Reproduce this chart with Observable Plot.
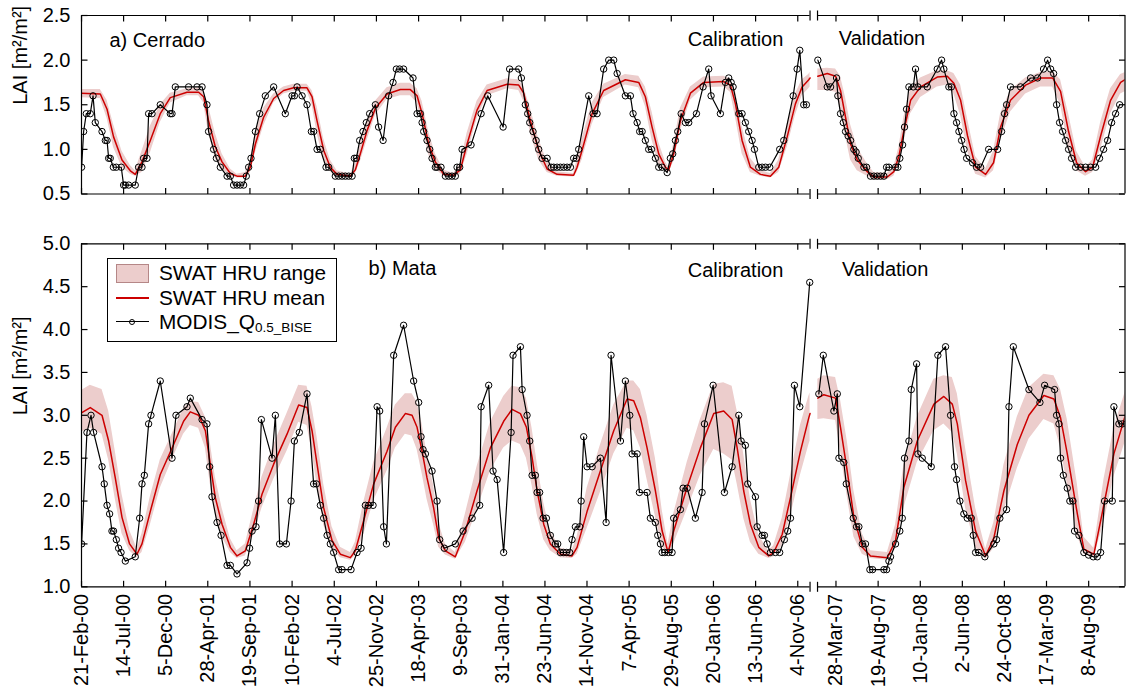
<!DOCTYPE html>
<html><head><meta charset="utf-8">
<script src="https://cdn.jsdelivr.net/npm/d3@7"></script>
<script src="https://cdn.jsdelivr.net/npm/@observablehq/plot@0.6"></script>
<style>
body{margin:0;background:#fff;font-family:"Liberation Sans",Arial,sans-serif;}
#wrap{position:relative;width:1126px;height:699px;overflow:hidden;background:#fff;}
#top{position:absolute;left:0;top:0;}
#bot{position:absolute;left:0;top:228px;}
#legend{position:absolute;left:107px;top:258px;width:230px;height:84px;border:1px solid #000;background:#fff;box-sizing:border-box;font-size:20.8px;color:#000;}
#legend .t{position:absolute;left:51px;height:24px;line-height:24px;white-space:nowrap;}
#legend sub{font-size:13.5px;vertical-align:-3px;}
</style></head><body>
<div id="wrap">
  <div id="top"></div>
  <div id="bot"></div>
  <div id="legend">
    <div style="position:absolute;left:8px;top:5px;width:33px;height:19px;background:#eccdcc;border:1px solid #b58787;box-sizing:border-box;"></div>
    <div class="t" style="top:2px;">SWAT HRU range</div>
    <div style="position:absolute;left:8px;top:38px;width:33px;height:1.5px;background:#cc0000;"></div>
    <div class="t" style="top:27px;">SWAT HRU mean</div>
    <div style="position:absolute;left:8px;top:62px;width:33px;height:1.2px;background:#000;"></div>
    <div style="position:absolute;left:21px;top:59.5px;width:6px;height:6px;border:1px solid #000;border-radius:50%;box-sizing:border-box;"></div>
    <div class="t" style="top:51px;">MODIS_Q<sub>0.5_BISE</sub></div>
  </div>
</div>
<script>
// ---------------- data ----------------
const tickDates = ["2000-02-21","2000-07-14","2000-12-05","2001-04-28","2001-09-19","2002-02-10","2002-07-04","2002-11-25","2003-04-18","2003-09-09","2004-01-31","2004-06-23","2004-11-14","2005-04-07","2005-08-29","2006-01-20","2006-06-13","2006-11-04","2007-03-28","2007-08-19","2008-01-10","2008-06-02","2008-10-24","2009-03-17","2009-08-08"];
const cerradoYTicks = [0.5, 1.0, 1.5, 2.0, 2.5];
const mataYTicks = [1.0, 1.5, 2.0, 2.5, 3.0, 3.5, 4.0, 4.5, 5.0];

// MODIS_Q0.5_BISE LAI, [decimal year, LAI]
const cerradoModis = [[2000.14,0.8],[2000.159,1.2],[2000.184,1.4],[2000.221,1.4],[2000.247,1.6],[2000.268,1.3],[2000.331,1.2],[2000.362,1.1],[2000.378,1.1],[2000.393,0.9],[2000.408,0.9],[2000.437,0.8],[2000.465,0.8],[2000.511,0.8],[2000.533,0.6],[2000.549,0.6],[2000.580,0.6],[2000.642,0.6],[2000.673,0.8],[2000.705,0.8],[2000.720,0.9],[2000.752,0.9],[2000.767,1.4],[2000.799,1.4],[2000.876,1.5],[2000.970,1.4],[2000.986,1.4],[2001.017,1.7],[2001.141,1.7],[2001.220,1.7],[2001.267,1.7],[2001.313,1.5],[2001.328,1.2],[2001.375,1.0],[2001.401,0.9],[2001.438,0.8],[2001.501,0.7],[2001.532,0.7],[2001.562,0.6],[2001.594,0.6],[2001.625,0.6],[2001.656,0.6],[2001.681,0.7],[2001.703,0.8],[2001.725,0.9],[2001.766,1.2],[2001.806,1.4],[2001.859,1.6],[2001.937,1.7],[2002.046,1.4],[2002.109,1.6],[2002.131,1.6],[2002.156,1.7],[2002.203,1.6],[2002.249,1.5],[2002.290,1.2],[2002.311,1.2],[2002.343,1.0],[2002.374,1.0],[2002.427,0.8],[2002.452,0.8],[2002.514,0.7],[2002.545,0.7],[2002.577,0.7],[2002.608,0.7],[2002.639,0.7],[2002.671,0.7],[2002.692,0.9],[2002.711,0.9],[2002.742,1.1],[2002.773,1.2],[2002.804,1.3],[2002.835,1.4],[2002.889,1.5],[2002.919,1.25],[2002.961,1.1],[2003.013,1.6],[2003.054,1.75],[2003.085,1.9],[2003.116,1.9],[2003.153,1.9],[2003.241,1.8],[2003.279,1.4],[2003.310,1.4],[2003.326,1.3],[2003.341,1.2],[2003.372,1.1],[2003.397,1.0],[2003.419,0.9],[2003.450,0.8],[2003.466,0.8],[2003.503,0.8],[2003.544,0.7],[2003.575,0.7],[2003.606,0.7],[2003.637,0.7],[2003.653,0.8],[2003.678,0.8],[2003.700,1.0],[2003.784,1.05],[2003.878,1.4],[2003.940,1.6],[2004.084,1.25],[2004.145,1.9],[2004.230,1.9],[2004.255,1.8],[2004.292,1.5],[2004.314,1.4],[2004.333,1.3],[2004.364,1.2],[2004.393,1.1],[2004.417,1.0],[2004.449,0.9],[2004.496,0.9],[2004.533,0.8],[2004.557,0.8],[2004.589,0.8],[2004.620,0.8],[2004.651,0.8],[2004.683,0.8],[2004.714,0.8],[2004.744,0.9],[2004.770,0.9],[2004.791,1.0],[2004.885,1.6],[2004.926,1.4],[2004.963,1.4],[2005.025,1.9],[2005.072,2.0],[2005.119,2.0],[2005.151,1.85],[2005.228,1.6],[2005.275,1.6],[2005.300,1.4],[2005.338,1.3],[2005.362,1.2],[2005.385,1.2],[2005.415,1.1],[2005.446,1.0],[2005.472,1.0],[2005.509,0.9],[2005.540,0.8],[2005.572,0.8],[2005.619,0.74],[2005.649,0.9],[2005.671,0.95],[2005.696,1.1],[2005.718,1.2],[2005.750,1.4],[2005.790,1.3],[2005.821,1.3],[2005.893,1.4],[2005.955,1.7],[2006.008,1.9],[2006.030,1.6],[2006.117,1.4],[2006.164,1.75],[2006.195,1.8],[2006.218,1.75],[2006.236,1.7],[2006.289,1.4],[2006.320,1.4],[2006.351,1.3],[2006.382,1.2],[2006.414,1.1],[2006.436,1.0],[2006.476,0.8],[2006.508,0.8],[2006.539,0.8],[2006.579,0.8],[2006.672,1.0],[2006.710,1.1],[2006.798,1.6],[2006.835,1.9],[2006.860,2.11],[2006.897,1.5],[2006.922,1.5],
[2007.066,2.0],[2007.154,1.7],[2007.185,1.7],[2007.241,1.8],[2007.253,1.6],[2007.278,1.4],[2007.304,1.3],[2007.325,1.2],[2007.349,1.15],[2007.372,1.1],[2007.403,1.0],[2007.424,0.97],[2007.444,0.9],[2007.497,0.8],[2007.522,0.8],[2007.559,0.7],[2007.590,0.7],[2007.622,0.7],[2007.653,0.7],[2007.684,0.7],[2007.709,0.8],[2007.731,0.8],[2007.793,0.8],[2007.815,0.8],[2007.833,0.9],[2007.859,1.05],[2007.877,1.25],[2007.896,1.45],[2007.918,1.7],[2007.959,1.7],[2007.980,1.9],[2008.002,1.7],[2008.090,1.7],[2008.183,1.9],[2008.224,2.0],[2008.245,1.9],[2008.292,1.7],[2008.315,1.7],[2008.339,1.4],[2008.364,1.3],[2008.386,1.2],[2008.411,1.1],[2008.434,1.0],[2008.458,0.9],[2008.514,0.85],[2008.551,0.8],[2008.589,0.8],[2008.664,1.0],[2008.748,1.0],[2008.785,1.2],[2008.813,1.4],[2008.832,1.5],[2008.869,1.7],[2008.963,1.7],[2009.057,1.8],[2009.122,1.8],[2009.178,1.9],[2009.216,2.0],[2009.244,1.9],[2009.272,1.85],[2009.300,1.5],[2009.328,1.3],[2009.356,1.2],[2009.384,1.1],[2009.412,1.0],[2009.440,0.9],[2009.478,0.8],[2009.525,0.8],[2009.571,0.8],[2009.618,0.8],[2009.665,0.8],[2009.702,0.9],[2009.740,1.0],[2009.777,1.1],[2009.815,1.3],[2009.852,1.4],[2009.890,1.5]];

// SWAT HRU LAI, [decimal year, mean, min, max]
const cerradoSwat = [[2000.128,1.63,1.58,1.67],[2000.315,1.62,1.57,1.67],[2000.378,1.45,1.35,1.55],[2000.439,1.14,1.02,1.28],[2000.518,0.88,0.80,0.98],[2000.596,0.76,0.72,0.82],[2000.642,0.72,0.70,0.76],[2000.705,0.86,0.74,0.98],[2000.783,1.10,0.96,1.26],[2000.876,1.40,1.30,1.50],[2000.970,1.58,1.52,1.63],[2001.126,1.64,1.60,1.68],[2001.235,1.64,1.60,1.69],[2001.282,1.59,1.52,1.65],[2001.328,1.32,1.18,1.48],[2001.391,1.03,0.90,1.18],[2001.454,0.86,0.78,0.95],[2001.532,0.73,0.70,0.78],[2001.594,0.70,0.68,0.72],[2001.672,0.70,0.68,0.74],[2001.719,0.80,0.74,0.88],[2001.766,1.06,0.96,1.18],[2001.843,1.36,1.26,1.46],[2001.937,1.57,1.52,1.62],[2002.030,1.66,1.62,1.70],[2002.124,1.69,1.65,1.73],[2002.249,1.69,1.65,1.73],[2002.296,1.59,1.50,1.66],[2002.343,1.32,1.18,1.48],[2002.405,0.99,0.88,1.12],[2002.467,0.80,0.75,0.88],[2002.530,0.72,0.70,0.76],[2002.655,0.70,0.68,0.72],[2002.701,0.77,0.72,0.84],[2002.748,0.95,0.86,1.06],[2002.811,1.21,1.10,1.32],[2002.889,1.46,1.38,1.54],[2002.998,1.62,1.56,1.69],[2003.123,1.67,1.60,1.74],[2003.216,1.67,1.60,1.74],[2003.279,1.60,1.52,1.68],[2003.326,1.40,1.28,1.54],[2003.387,1.06,0.94,1.20],[2003.450,0.86,0.78,0.95],[2003.528,0.72,0.70,0.77],[2003.621,0.71,0.69,0.73],[2003.684,0.77,0.72,0.84],[2003.747,1.06,0.94,1.18],[2003.840,1.44,1.34,1.54],[2003.934,1.66,1.60,1.72],[2004.121,1.73,1.68,1.79],[2004.230,1.72,1.66,1.78],[2004.277,1.63,1.54,1.70],[2004.339,1.32,1.18,1.46],[2004.417,0.99,0.88,1.12],[2004.496,0.78,0.74,0.86],[2004.589,0.72,0.70,0.75],[2004.744,0.71,0.69,0.73],[2004.776,0.80,0.74,0.88],[2004.823,0.99,0.88,1.12],[2004.917,1.40,1.28,1.52],[2005.025,1.66,1.58,1.73],[2005.228,1.78,1.72,1.84],[2005.353,1.75,1.69,1.82],[2005.415,1.59,1.48,1.70],[2005.478,1.25,1.10,1.42],[2005.540,0.95,0.84,1.08],[2005.603,0.80,0.76,0.86],[2005.634,0.77,0.74,0.80],[2005.680,0.95,0.86,1.06],[2005.743,1.32,1.20,1.46],[2005.837,1.63,1.55,1.70],[2005.961,1.75,1.69,1.81],[2006.148,1.76,1.70,1.82],[2006.211,1.72,1.64,1.79],[2006.258,1.51,1.36,1.66],[2006.320,1.10,0.95,1.26],[2006.398,0.80,0.74,0.90],[2006.492,0.72,0.70,0.76],[2006.585,0.70,0.68,0.73],[2006.663,0.80,0.74,0.88],[2006.742,1.14,1.02,1.28],[2006.819,1.51,1.38,1.62],[2006.882,1.70,1.60,1.78],[2006.944,1.78,1.68,1.84],[2006.956,1.80,1.70,1.86],
[2007.066,1.82,1.66,1.90],[2007.154,1.85,1.66,1.91],[2007.232,1.82,1.64,1.90],[2007.278,1.66,1.45,1.82],[2007.325,1.36,1.15,1.58],[2007.372,1.06,0.88,1.28],[2007.435,0.88,0.76,1.02],[2007.528,0.75,0.70,0.84],[2007.590,0.69,0.66,0.74],[2007.716,0.69,0.66,0.73],[2007.777,0.75,0.70,0.80],[2007.824,0.92,0.84,1.02],[2007.871,1.21,1.08,1.36],[2007.934,1.55,1.40,1.68],[2008.027,1.70,1.58,1.80],[2008.183,1.81,1.70,1.88],[2008.277,1.82,1.72,1.88],[2008.339,1.74,1.62,1.85],[2008.402,1.55,1.38,1.72],[2008.467,1.15,0.98,1.34],[2008.542,0.80,0.72,0.92],[2008.636,0.72,0.68,0.78],[2008.710,0.85,0.76,0.98],[2008.776,1.25,1.10,1.40],[2008.869,1.55,1.42,1.66],[2009.010,1.72,1.62,1.80],[2009.150,1.80,1.70,1.86],[2009.263,1.80,1.70,1.87],[2009.337,1.65,1.50,1.78],[2009.412,1.20,1.02,1.40],[2009.487,0.85,0.76,0.98],[2009.571,0.75,0.70,0.80],[2009.637,0.80,0.74,0.88],[2009.712,1.15,1.00,1.30],[2009.805,1.55,1.40,1.68],[2009.899,1.75,1.62,1.84],[2009.964,1.80,1.66,1.87]];

const mataModis = [[2000.14,1.5],[2000.190,2.8],[2000.228,3.0],[2000.252,2.8],[2000.331,2.4],[2000.352,2.2],[2000.378,1.95],[2000.402,1.85],[2000.424,1.65],[2000.439,1.65],[2000.465,1.55],[2000.486,1.45],[2000.509,1.4],[2000.549,1.3],[2000.642,1.35],[2000.683,1.8],[2000.705,2.2],[2000.727,2.3],[2000.767,2.9],[2000.789,3.0],[2000.876,3.4],[2000.986,2.5],[2001.023,3.0],[2001.126,3.1],[2001.157,3.2],[2001.267,2.95],[2001.313,2.9],[2001.338,2.4],[2001.360,2.05],[2001.407,1.75],[2001.445,1.6],[2001.501,1.25],[2001.532,1.25],[2001.594,1.15],[2001.688,1.28],[2001.712,1.45],[2001.735,1.65],[2001.772,1.7],[2001.796,2.0],[2001.822,2.95],[2001.922,2.5],[2001.953,3.0],[2001.993,1.5],[2002.056,1.5],[2002.100,2.0],[2002.131,2.7],[2002.177,2.8],[2002.249,3.25],[2002.311,2.2],[2002.336,2.2],[2002.374,1.95],[2002.405,1.8],[2002.437,1.6],[2002.467,1.5],[2002.498,1.4],[2002.545,1.2],[2002.577,1.2],[2002.661,1.2],[2002.717,1.4],[2002.755,1.45],[2002.795,1.95],[2002.826,1.95],[2002.867,1.95],[2002.905,3.1],[2002.929,3.05],[2002.966,1.7],[2002.992,1.5],[2003.060,3.7],[2003.153,4.05],[2003.247,3.4],[2003.294,3.15],[2003.316,2.75],[2003.335,2.6],[2003.357,2.55],[2003.419,2.35],[2003.466,2.0],[2003.490,1.55],[2003.534,1.45],[2003.637,1.5],[2003.709,1.65],[2003.794,1.8],[2003.865,1.95],[2003.878,3.1],[2003.949,3.35],[2003.990,2.35],[2004.028,2.25],[2004.089,1.4],[2004.159,2.8],[2004.177,3.7],[2004.246,3.8],[2004.262,3.3],[2004.308,3.0],[2004.333,2.7],[2004.355,2.3],[2004.386,2.3],[2004.402,2.1],[2004.426,2.1],[2004.458,1.8],[2004.489,1.8],[2004.526,1.6],[2004.573,1.5],[2004.595,1.5],[2004.620,1.4],[2004.648,1.4],[2004.676,1.4],[2004.707,1.4],[2004.729,1.55],[2004.760,1.7],[2004.801,1.7],[2004.814,2.0],[2004.838,2.75],[2004.870,2.4],[2004.917,2.4],[2004.994,2.5],[2005.048,1.75],[2005.094,3.7],[2005.182,2.7],[2005.228,3.4],[2005.269,3.0],[2005.291,2.55],[2005.338,2.55],[2005.359,2.1],[2005.431,2.1],[2005.462,1.8],[2005.509,1.75],[2005.531,1.6],[2005.556,1.5],[2005.572,1.4],[2005.596,1.4],[2005.631,1.4],[2005.665,1.4],[2005.680,1.8],[2005.743,1.9],[2005.768,2.15],[2005.806,2.15],[2005.883,1.8],[2005.946,2.1],[2005.968,2.9],[2006.049,3.35],[2006.155,2.1],[2006.227,2.4],[2006.289,3.0],[2006.311,2.7],[2006.351,2.65],[2006.373,2.2],[2006.445,2.05],[2006.461,1.7],[2006.508,1.6],[2006.529,1.6],[2006.554,1.5],[2006.585,1.4],[2006.632,1.4],[2006.672,1.4],[2006.716,1.55],[2006.747,1.65],[2006.773,1.8],[2006.810,3.35],[2006.860,3.1],[2006.953,4.55],
[2007.075,3.25],[2007.117,3.7],[2007.216,3.05],[2007.248,3.25],[2007.263,2.5],[2007.309,2.45],[2007.332,2.2],[2007.397,1.8],[2007.428,1.7],[2007.450,1.7],[2007.482,1.5],[2007.512,1.5],[2007.553,1.2],[2007.578,1.2],[2007.684,1.2],[2007.709,1.2],[2007.731,1.3],[2007.746,1.35],[2007.793,1.5],[2007.833,1.65],[2007.856,1.8],[2007.877,2.5],[2007.918,2.7],[2007.940,3.3],[2007.990,3.6],[2008.002,2.55],[2008.043,2.5],[2008.127,2.4],[2008.189,3.7],[2008.261,3.8],[2008.308,3.0],[2008.345,2.4],[2008.364,2.25],[2008.395,2.0],[2008.432,1.85],[2008.464,1.8],[2008.502,1.8],[2008.520,1.6],[2008.542,1.4],[2008.573,1.4],[2008.629,1.35],[2008.713,1.5],[2008.738,1.55],[2008.769,1.8],[2008.832,1.9],[2008.854,3.1],[2008.895,3.8],[2009.041,3.3],[2009.144,3.15],[2009.188,3.35],[2009.281,3.3],[2009.300,3.0],[2009.322,2.9],[2009.337,2.5],[2009.363,2.3],[2009.400,2.15],[2009.424,2.0],[2009.453,2.0],[2009.468,1.65],[2009.509,1.6],[2009.555,1.4],[2009.599,1.37],[2009.643,1.35],[2009.681,1.35],[2009.712,1.4],[2009.749,2.0],[2009.821,2.0],[2009.836,3.1],[2009.883,2.9],[2009.915,2.9],[2009.955,2.9]];

const mataSwat = [[2000.128,3.02,2.80,3.28],[2000.221,3.09,2.85,3.35],[2000.331,3.0,2.78,3.30],[2000.393,2.7,2.48,3.05],[2000.455,2.27,2.02,2.58],[2000.518,1.81,1.62,2.08],[2000.589,1.5,1.42,1.66],[2000.658,1.38,1.34,1.45],[2000.705,1.5,1.40,1.62],[2000.783,1.88,1.72,2.05],[2000.876,2.31,2.15,2.48],[2001.001,2.66,2.52,2.82],[2001.094,2.93,2.78,3.08],[2001.157,3.04,2.88,3.16],[2001.235,3.0,2.85,3.15],[2001.298,2.82,2.62,2.98],[2001.344,2.43,2.20,2.68],[2001.391,2.04,1.85,2.28],[2001.454,1.73,1.58,1.92],[2001.532,1.46,1.40,1.56],[2001.594,1.36,1.33,1.42],[2001.672,1.42,1.36,1.50],[2001.750,1.73,1.60,1.90],[2001.828,2.08,1.92,2.28],[2001.937,2.43,2.25,2.65],[2002.062,2.78,2.58,3.02],[2002.171,3.12,2.92,3.35],[2002.249,3.09,2.88,3.34],[2002.296,2.82,2.58,3.10],[2002.343,2.43,2.18,2.75],[2002.405,1.92,1.72,2.20],[2002.483,1.54,1.45,1.70],[2002.561,1.38,1.34,1.46],[2002.655,1.34,1.31,1.40],[2002.701,1.42,1.36,1.52],[2002.779,1.77,1.60,1.98],[2002.873,2.2,2.00,2.45],[2002.998,2.58,2.35,2.85],[2003.076,2.86,2.62,3.12],[2003.169,3.02,2.78,3.25],[2003.232,3.0,2.76,3.25],[2003.279,2.86,2.60,3.15],[2003.326,2.58,2.32,2.90],[2003.372,2.27,2.02,2.55],[2003.434,1.92,1.72,2.18],[2003.481,1.57,1.46,1.75],[2003.544,1.42,1.37,1.50],[2003.637,1.35,1.32,1.40],[2003.731,1.65,1.52,1.85],[2003.840,2.12,1.90,2.40],[2003.965,2.62,2.35,2.92],[2004.089,2.93,2.62,3.22],[2004.168,3.07,2.70,3.34],[2004.246,3.02,2.66,3.32],[2004.302,2.86,2.50,3.20],[2004.355,2.51,2.18,2.85],[2004.402,2.12,1.85,2.45],[2004.464,1.73,1.55,1.98],[2004.526,1.5,1.42,1.65],[2004.620,1.38,1.34,1.45],[2004.729,1.36,1.33,1.42],[2004.776,1.46,1.38,1.58],[2004.870,1.88,1.68,2.15],[2004.994,2.35,2.10,2.65],[2005.119,2.82,2.55,3.12],[2005.244,3.19,2.85,3.40],[2005.306,3.17,2.82,3.40],[2005.369,2.97,2.62,3.30],[2005.431,2.62,2.25,3.00],[2005.509,2.12,1.82,2.50],[2005.572,1.65,1.48,1.90],[2005.628,1.4,1.36,1.50],[2005.680,1.65,1.50,1.85],[2005.806,2.16,1.90,2.45],[2005.930,2.62,2.30,2.95],[2006.055,3.02,2.60,3.36],[2006.148,3.05,2.55,3.38],[2006.227,2.95,2.48,3.34],[2006.274,2.62,2.20,3.05],[2006.335,2.12,1.80,2.55],[2006.398,1.73,1.52,2.02],[2006.476,1.46,1.38,1.60],[2006.569,1.36,1.33,1.42],[2006.616,1.4,1.35,1.48],[2006.695,1.61,1.48,1.80],[2006.773,2.04,1.82,2.30],[2006.866,2.58,2.30,2.88],[2006.944,2.97,2.65,3.22],[2006.956,3.02,2.70,3.26],
[2007.066,3.2,2.95,3.42],[2007.122,3.24,2.96,3.46],[2007.232,3.2,2.94,3.44],[2007.278,2.86,2.58,3.18],[2007.341,2.35,2.05,2.70],[2007.403,1.81,1.58,2.12],[2007.482,1.46,1.38,1.62],[2007.559,1.36,1.33,1.42],[2007.716,1.34,1.31,1.40],[2007.793,1.54,1.44,1.72],[2007.871,2.16,1.92,2.42],[2007.996,2.7,2.45,2.98],[2008.152,3.13,2.82,3.42],[2008.245,3.22,2.90,3.46],[2008.324,3.13,2.80,3.44],[2008.371,2.9,2.55,3.25],[2008.448,2.24,1.92,2.62],[2008.542,1.65,1.46,1.92],[2008.636,1.36,1.32,1.44],[2008.713,1.57,1.45,1.75],[2008.807,2.12,1.88,2.42],[2008.932,2.66,2.38,2.98],[2009.041,3.0,2.72,3.32],[2009.181,3.23,2.95,3.48],[2009.275,3.19,2.90,3.46],[2009.337,2.97,2.62,3.30],[2009.400,2.55,2.20,2.95],[2009.494,1.85,1.60,2.20],[2009.555,1.44,1.38,1.58],[2009.649,1.38,1.34,1.45],[2009.743,1.96,1.75,2.25],[2009.836,2.55,2.28,2.85],[2009.955,3.05,2.74,3.32]];

const cerradoNotes = [
  {label: "a) Cerrado", t: 2000.401, lai: 2.22, anchor: "start"},
  {label: "Calibration", t: 2006.259, lai: 2.23, anchor: "middle"},
  {label: "Validation", t: 2007.666, lai: 2.24, anchor: "middle"}];
const mataNotes = [
  {label: "b) Mata", t: 2002.825, lai: 4.71, anchor: "start"},
  {label: "Calibration", t: 2006.259, lai: 4.69, anchor: "middle"},
  {label: "Validation", t: 2007.695, lai: 4.70, anchor: "middle"}];

// ---------------- axis with break ----------------
const VALIDATION_START = 2007, BREAK_SHIFT = 0.037;
const disp = t => t >= VALIDATION_START ? t - BREAK_SHIFT : t;
const X_DOMAIN = [2000.139, 2009.903];
const BREAK = [2006.956, 2007.026];
const parse = d3.utcParse("%Y-%m-%d");
const fmt = d3.utcFormat("%-d-%b-%y");
function decimalYear(date) {
  const y = date.getUTCFullYear();
  const a = Date.UTC(y, 0, 1), b = Date.UTC(y + 1, 0, 1);
  return y + (date - a) / (b - a);
}
const tickPos = tickDates.map(s => disp(decimalYear(parse(s))));
const tickLabel = new Map(tickPos.map((p, i) => [p, fmt(parse(tickDates[i]))]));

const seg = (x1, y1, x2, y2) => ({draw(c) { c.moveTo(x1, y1); c.lineTo(x2, y2); }});
const TICK_UP = seg(0, 0, 0, -6), TICK_DOWN = seg(0, 0, 0, 6);
const TICK_RIGHT = seg(0, 0, 6, 0), TICK_LEFT = seg(0, 0, -6, 0);
const BREAK_MARK = seg(0, -5, 0, 5);

function panel({modis, swat, yDomain, yTicks, notes, height, marginTop, marginBottom, xLabels}) {
  const period = t => t >= VALIDATION_START ? "val" : "cal";
  const m = modis.map(([t, v]) => ({x: disp(t), y: v, p: period(t)}));
  const s = swat.map(([t, mean, lo, hi]) => ({x: disp(t), mean, lo, hi, p: period(t)}));
  const [y0, y1] = yDomain;
  const [x0, x1] = X_DOMAIN;
  const edges = [
    {y: y0, a: x0, b: BREAK[0]}, {y: y0, a: BREAK[1], b: x1},
    {y: y1, a: x0, b: BREAK[0]}, {y: y1, a: BREAK[1], b: x1}];
  const brk = [[BREAK[0], y0], [BREAK[1], y0], [BREAK[0], y1], [BREAK[1], y1]];
  const k = {stroke: "black", fill: "none", strokeWidth: 1.2};
  return Plot.plot({
    width: 1126, height, marginTop, marginBottom, marginLeft: 81, marginRight: 1.5,
    style: {fontFamily: "Liberation Sans, Arial, sans-serif", fontSize: "20px", color: "black", background: "transparent", overflow: "visible"},
    x: {domain: X_DOMAIN, ticks: tickPos, tickFormat: d => tickLabel.get(d), tickSize: 0, tickPadding: 7,
        tickRotate: -90, label: null, axis: xLabels ? "bottom" : null},
    y: {domain: yDomain, ticks: yTicks, tickSize: 0, tickPadding: 11, tickFormat: d3.format(".1f"), label: null},
    marks: [
      Plot.areaY(s, {x: "x", y1: "lo", y2: "hi", z: "p", fill: "#eccdcc", clip: true}),
      Plot.line(s, {x: "x", y: "mean", z: "p", stroke: "#cc0000", strokeWidth: 1.5, clip: true}),
      Plot.line(m, {x: "x", y: "y", z: "p", stroke: "black", strokeWidth: 1.2, clip: true}),
      Plot.dot(m, {x: "x", y: "y", r: 3.2, stroke: "black", fill: "none", strokeWidth: 1, clip: true}),
      Plot.ruleX(X_DOMAIN, {stroke: "black", strokeWidth: 1.2}),
      Plot.ruleY(edges, {y: "y", x1: "a", x2: "b", stroke: "black", strokeWidth: 1.2}),
      Plot.dot(tickPos, {x: d => d, y: () => y0, symbol: TICK_UP, ...k}),
      Plot.dot(tickPos, {x: d => d, y: () => y1, symbol: TICK_DOWN, ...k}),
      Plot.dot(yTicks, {x: () => x0, y: d => d, symbol: TICK_RIGHT, ...k}),
      Plot.dot(yTicks, {x: () => x1, y: d => d, symbol: TICK_LEFT, ...k}),
      Plot.dot(brk, {x: d => d[0], y: d => d[1], symbol: BREAK_MARK, ...k}),
      Plot.text(notes.filter(d => d.anchor === "start"), {x: d => disp(d.t), y: "lai", text: "label", textAnchor: "start", fontSize: 20, fill: "black"}),
      Plot.text(notes.filter(d => d.anchor === "middle"), {x: d => disp(d.t), y: "lai", text: "label", textAnchor: "middle", fontSize: 20, fill: "black"}),
      Plot.text(["LAI [m²/m²]"], {frameAnchor: "left", text: d => d, rotate: -90, dx: -61, fontSize: 20, fill: "black"})
    ]
  });
}

document.getElementById("top").append(panel({
  modis: cerradoModis, swat: cerradoSwat, yDomain: [0.5, 2.5], yTicks: cerradoYTicks, notes: cerradoNotes,
  height: 212, marginTop: 15, marginBottom: 18.5, xLabels: false}));
document.getElementById("bot").append(panel({
  modis: mataModis, swat: mataSwat, yDomain: [1.0, 5.0], yTicks: mataYTicks, notes: mataNotes,
  height: 471, marginTop: 15.3, marginBottom: 112.7, xLabels: true}));
</script>
</body></html>
